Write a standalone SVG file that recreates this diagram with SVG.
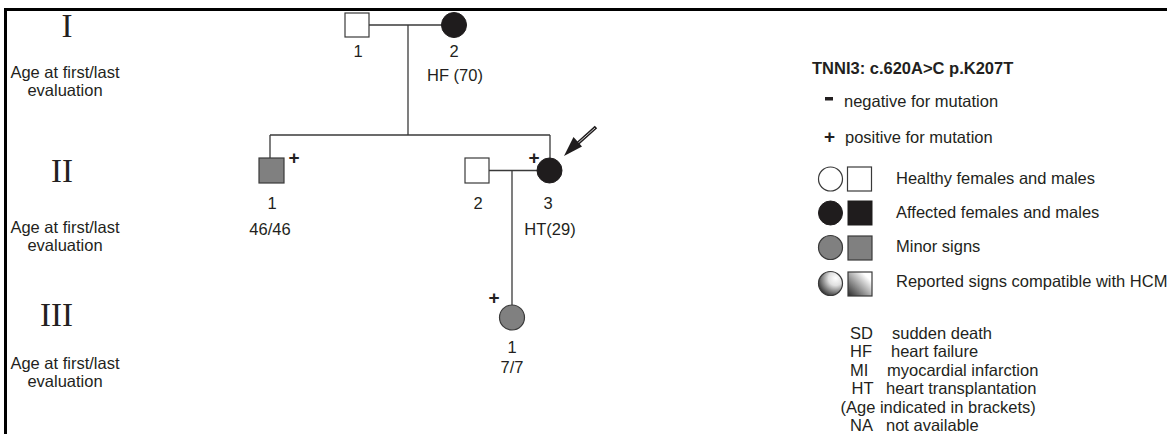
<svg xmlns="http://www.w3.org/2000/svg" width="1167" height="434" viewBox="0 0 1167 434">
<style>
text{font-family:"Liberation Sans",Arial,sans-serif;font-size:16.5px;fill:#231f20}
.c{text-anchor:middle}
.rn{font-family:"Liberation Serif","Times New Roman",serif;font-size:33px}
.b{font-weight:bold}
.pl{font-weight:bold;font-size:19px;text-anchor:middle}
.ln{stroke:#3a3a3a;stroke-width:1.3;fill:none}
.aff{fill:#1f1c1d;stroke:#1f1c1d;stroke-width:1}
.hl{fill:#fff;stroke:#3a3a3a;stroke-width:1.2}
.mn{fill:#808080;stroke:#3a3a3a;stroke-width:1.2}
</style>
<defs>
<radialGradient id="gc" cx="0.7" cy="0.3" r="0.85" fx="0.72" fy="0.28">
<stop offset="0" stop-color="#ffffff"/>
<stop offset="0.35" stop-color="#e0e0e0"/>
<stop offset="1" stop-color="#1a1a1a"/>
</radialGradient>
<linearGradient id="gs" x1="1" y1="0" x2="0" y2="1">
<stop offset="0.2" stop-color="#ffffff"/>
<stop offset="1" stop-color="#2a2a2a"/>
</linearGradient>
</defs>
<g id="frame">
<line x1="4" y1="9.5" x2="1167" y2="9.5" stroke="#000" stroke-width="3"/>
<line x1="5.5" y1="8" x2="5.5" y2="434" stroke="#000" stroke-width="3"/>
</g>
<g id="generations">
<text class="rn" x="61.5" y="37">I</text>
<text class="c" x="65" y="78">Age at first/last</text>
<text class="c" x="65" y="96">evaluation</text>
<text class="rn" x="51" y="182">II</text>
<text class="c" x="65" y="233">Age at first/last</text>
<text class="c" x="65" y="251">evaluation</text>
<text class="rn" x="40" y="326">III</text>
<text class="c" x="65" y="369">Age at first/last</text>
<text class="c" x="65" y="387">evaluation</text>
</g>
<g id="connectors">
<line class="ln" x1="369" y1="25" x2="442" y2="25"/>
<line class="ln" x1="408" y1="25" x2="408" y2="135"/>
<line class="ln" x1="270" y1="135" x2="550" y2="135"/>
<line class="ln" x1="270" y1="135" x2="270" y2="158"/>
<line class="ln" x1="550" y1="135" x2="550" y2="158"/>
<line class="ln" x1="489" y1="170.5" x2="537" y2="170.5"/>
<line class="ln" x1="512" y1="170.5" x2="512" y2="305"/>
</g>
<g id="I-1">
<rect class="hl" x="345" y="13" width="24" height="24"/>
<text class="c" x="358" y="57">1</text>
</g>
<g id="I-2">
<circle class="aff" cx="454" cy="25" r="12.5"/>
<text class="c" x="454" y="57">2</text>
<text class="c" x="455" y="81">HF (70)</text>
</g>
<g id="II-1">
<rect class="mn" x="259" y="158" width="25" height="25"/>
<text class="pl" x="294" y="164">+</text>
<text class="c" x="272" y="209">1</text>
<text class="c" x="270" y="235">46/46</text>
</g>
<g id="II-2">
<rect class="hl" x="465" y="158" width="24" height="25"/>
<text class="c" x="478" y="209">2</text>
</g>
<g id="II-3">
<circle class="aff" cx="549.5" cy="170.5" r="12.5"/>
<text class="pl" x="534" y="164">+</text>
<text class="c" x="548" y="209">3</text>
<text class="c" x="550" y="235">HT(29)</text>
<line x1="576" y1="145" x2="596" y2="127" stroke="#1f1c1d" stroke-width="3.6"/>
<line x1="577" y1="144" x2="595" y2="128" stroke="#fff" stroke-width="0.8"/>
<polygon points="564,156 582,146.5 573.5,137" fill="#1f1c1d"/>
</g>
<g id="III-1">
<circle class="mn" cx="512" cy="317.5" r="12.5"/>
<text class="pl" x="494" y="304">+</text>
<text class="c" x="512" y="353">1</text>
<text class="c" x="512" y="373">7/7</text>
</g>
<g id="legend">
<text class="b" x="812" y="74">TNNI3: c.620A&gt;C p.K207T</text>
<rect x="825" y="97" width="8" height="3.5" fill="#231f20"/>
<text x="844" y="107">negative for  mutation</text>
<text class="pl" x="829.5" y="143">+</text>
<text x="845" y="143">positive for mutation</text>
<circle class="hl" cx="830.5" cy="179" r="12"/>
<rect class="hl" x="847.5" y="167" width="24" height="24"/>
<text x="896" y="184">Healthy females and males</text>
<circle class="aff" cx="830.5" cy="213" r="12"/>
<rect class="aff" x="848" y="201" width="24" height="24"/>
<text x="896" y="218">Affected females and males</text>
<circle class="mn" cx="830.5" cy="247.5" r="12"/>
<rect class="mn" x="848" y="236" width="24" height="24"/>
<text x="896" y="252">Minor signs</text>
<circle cx="830.5" cy="283.5" r="12" fill="url(#gc)" stroke="#3a3a3a" stroke-width="1.2"/>
<rect x="848" y="272" width="24" height="24" fill="url(#gs)" stroke="#3a3a3a" stroke-width="1.2"/>
<text x="896" y="287">Reported signs compatible with HCM</text>
<text x="850" y="339">SD</text><text x="892" y="339">sudden death</text>
<text x="850" y="357">HF</text><text x="891" y="357">heart failure</text>
<text x="850" y="376">MI</text><text x="887" y="376">myocardial infarction</text>
<text x="851.5" y="394">HT</text><text x="886" y="394">heart transplantation</text>
<text x="840.5" y="413">(Age indicated in brackets)</text>
<text x="850" y="431">NA</text><text x="886" y="431">not available</text>
</g>
</svg>
